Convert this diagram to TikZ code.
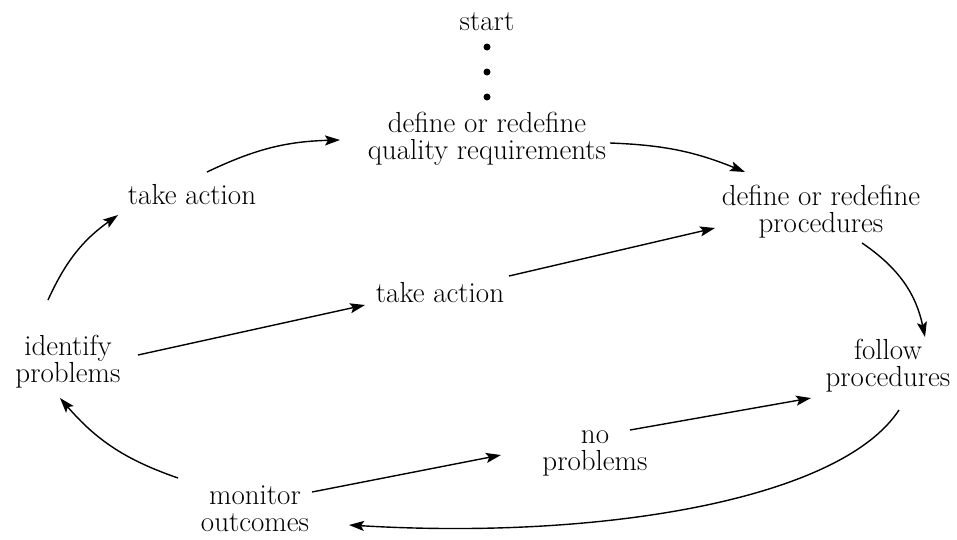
\documentclass[tikz,border=0pt]{standalone}
\usetikzlibrary{arrows.meta,calc}
\begin{document}
\begin{tikzpicture}[x=1pt,y=-1pt,
  lbl/.style={inner sep=0pt,align=center,font=\fontsize{29}{27}\selectfont},
  dotnode/.style={circle,fill=black,inner sep=0pt,minimum size=7pt},
  conn/.style={line width=1.4pt,-{Stealth[length=15pt,width=10pt,inset=3pt]}}]
\useasboundingbox (0,0) rectangle (957,539);
\node[lbl] (start) at (487,22) {start};
\node[dotnode] (d1) at (487,47) {};
\node[dotnode] (d2) at (487,72) {};
\node[dotnode] (d3) at (487,97) {};
\node[lbl] (qr) at (487,139) {define or redefine\\quality requirements};
\node[lbl] (ta1) at (192,195) {take action};
\node[lbl] (dp) at (821,212) {define or redefine\\procedures};
\node[lbl] (ta2) at (440,293) {take action};
\node[lbl] (ip) at (68,362) {identify\\problems};
\node[lbl] (fp) at (888,366) {follow\\procedures};
\node[lbl] (np) at (595,453) {no\\problems};
\node[lbl] (mo) at (255,509) {monitor\\outcomes};

\draw[conn] ($(ta1)+(15,-23)$) to[bend left=12] ($(qr)+(-147,1)$);
\draw[conn] ($(qr)+(123,4)$) to[bend left=10] ($(dp)+(-76,-40)$);
\draw[conn] ($(dp)+(41,31)$) to[bend left=22] ($(fp)+(37,-29)$);
\draw[conn] ($(fp)+(11,44)$) .. controls (840,500) and (600,540) .. ($(mo)+(94,16)$);
\draw[conn] ($(mo)+(-77,-31)$) to[bend left=15] ($(ip)+(-8,36)$);
\draw[conn] ($(ip)+(-20,-62)$) to[bend left=15] ($(ta1)+(-74,20)$);
\draw[conn] ($(ip)+(70,-7)$) -- ($(ta2)+(-75,12)$);
\draw[conn] ($(ta2)+(69,-17)$) -- ($(dp)+(-106,16)$);
\draw[conn] ($(mo)+(57,-17)$) -- ($(np)+(-94,2)$);
\draw[conn] ($(np)+(35,-23)$) -- ($(fp)+(-77,32)$);
\end{tikzpicture}
\end{document}
